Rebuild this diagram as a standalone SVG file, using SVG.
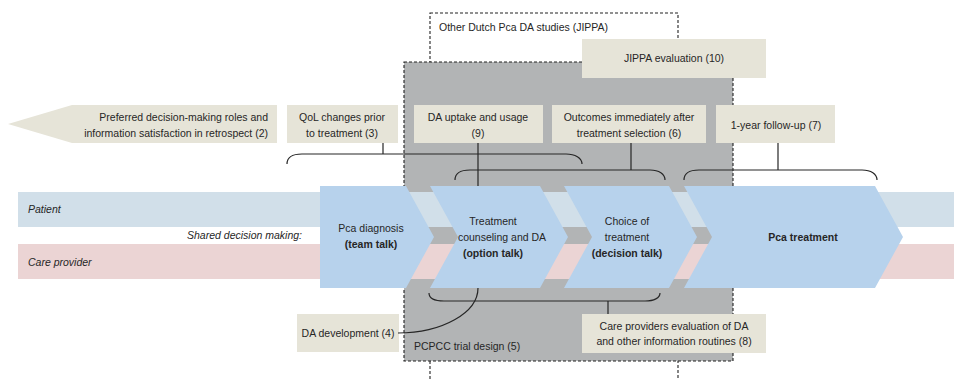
<svg xmlns="http://www.w3.org/2000/svg" width="954" height="379" viewBox="0 0 954 379">
<style>
text{font-family:"Liberation Sans",Arial,sans-serif;font-size:10.5px;fill:#262626}
.c{text-anchor:middle}
.r{text-anchor:end}
.i{font-style:italic}
.b{font-weight:bold}
.box{fill:#e6e4d8}
.chev{fill:#b7d2ec}
.dash{fill:none;stroke:#222;stroke-width:1.1;stroke-dasharray:3,2}
.ln{fill:none;stroke:#262626;stroke-width:1.2}
</style>
<g id="jippa-study">
<rect class="dash" x="430" y="13" width="248" height="400"/>
<text x="439" y="31">Other Dutch Pca DA studies (JIPPA)</text>
</g>
<g id="pcpcc-trial">
<rect x="404" y="62" width="329" height="299" fill="#b2b4b5" stroke="#222" stroke-width="1.1" stroke-dasharray="3,2"/>
<text x="414" y="350">PCPCC trial design (5)</text>
</g>
<g id="jippa-eval">
<rect class="box" x="582" y="39" width="184" height="39"/>
<text class="c" x="674" y="62">JIPPA evaluation (10)</text>
</g>
<g id="lanes">
<rect x="18" y="192" width="936" height="35" fill="#d1dfe9"/>
<rect x="18" y="244" width="936" height="35" fill="#ebd4d4"/>
<text class="i" x="28" y="213">Patient</text>
<text class="i" x="28" y="266">Care provider</text>
<text class="i r" x="302" y="239">Shared decision making:</text>
</g>
<g id="chev-diagnosis">
<polygon class="chev" points="320,186 406,186 434,237 406,288 320,288"/>
<text class="c" x="371" y="232">Pca diagnosis</text>
<text class="c b" x="371" y="248">(team talk)</text>
</g>
<g id="chev-counseling">
<polygon class="chev" points="430,186 540,186 568,237 540,288 430,288 458,237"/>
<text class="c" x="493" y="225">Treatment</text>
<text class="c" x="502" y="241">counseling and DA</text>
<text class="c b" x="493" y="257">(option talk)</text>
</g>
<g id="chev-choice">
<polygon class="chev" points="564,186 669,186 697,237 669,288 564,288 592,237"/>
<text class="c" x="627" y="225">Choice of</text>
<text class="c" x="627" y="241">treatment</text>
<text class="c b" x="627" y="257">(decision talk)</text>
</g>
<g id="chev-treatment">
<polygon class="chev" points="684,186 875,186 903,237 875,288 684,288 712,237"/>
<text class="c b" x="803" y="241">Pca treatment</text>
</g>
<g id="preferred-roles">
<polygon class="box" points="8,124 72,105 277,105 277,143 72,143"/>
<text class="r" x="268" y="121">Preferred decision-making roles and</text>
<text class="r" x="268" y="137">information satisfaction in retrospect (2)</text>
</g>
<g id="qol">
<rect class="box" x="287" y="105" width="111" height="38"/>
<text class="c" x="342" y="121">QoL changes prior</text>
<text class="c" x="342" y="137">to treatment (3)</text>
</g>
<g id="da-uptake">
<rect class="box" x="414" y="105" width="129" height="38"/>
<text class="c" x="478" y="121">DA uptake and usage</text>
<text class="c" x="478" y="137">(9)</text>
</g>
<g id="outcomes">
<rect class="box" x="552" y="105" width="154" height="38"/>
<text class="c" x="629" y="121">Outcomes immediately after</text>
<text class="c" x="629" y="137">treatment selection (6)</text>
</g>
<g id="follow-up">
<rect class="box" x="716" y="105" width="119" height="38"/>
<text class="c" x="776" y="129">1-year follow-up (7)</text>
</g>
<g id="da-development">
<rect class="box" x="297" y="314" width="102" height="38"/>
<text class="c" x="348" y="337">DA development (4)</text>
</g>
<g id="care-eval">
<rect class="box" x="582" y="314" width="184" height="39"/>
<text class="c" x="674" y="330">Care providers evaluation of DA</text>
<text class="c" x="674" y="345">and other information routines (8)</text>
</g>
<g id="connectors">
<path class="ln" d="M383,143 V154"/>
<path class="ln" d="M287,164 C287,158 292,154 302,154 H566 C575,154 582,158 582,164"/>
<path class="ln" d="M478,143 V186"/>
<path class="ln" d="M631,143 V170"/>
<path class="ln" d="M455,180 C455,174 460,170 470,170 H650 C659,170 665,174 665,180"/>
<path class="ln" d="M778,143 V170"/>
<path class="ln" d="M684,180 C684,174 689,170 699,170 H862 C871,170 877,174 877,180"/>
<path class="ln" d="M429,293 C429,298 434,301 444,301 H645 C654,301 660,298 660,293"/>
<path class="ln" d="M608,301 V314"/>
<path class="ln" d="M398,333 A80,45 0 0 0 478,288"/>
</g>
</svg>
